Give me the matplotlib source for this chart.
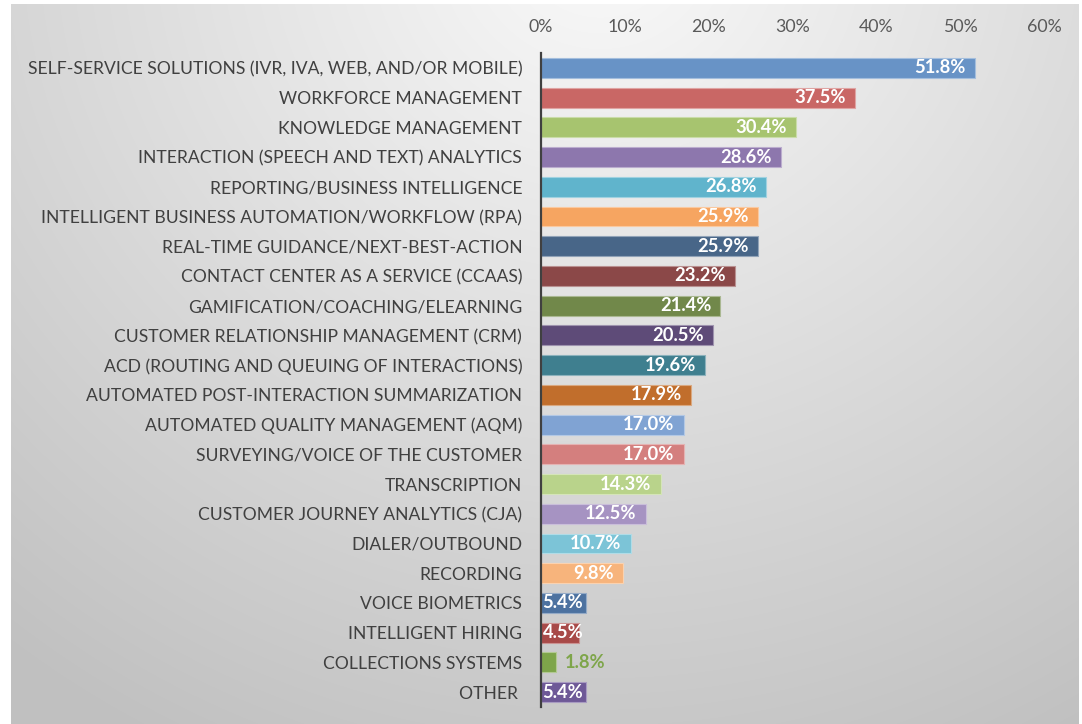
import numpy as np
import matplotlib
matplotlib.use('Agg')
import matplotlib.pyplot as plt
from matplotlib.colors import to_rgb

# 数据
categories = [
    'SELF-SERVICE SOLUTIONS (IVR, IVA, WEB, AND/OR MOBILE)',
    'WORKFORCE MANAGEMENT',
    'KNOWLEDGE MANAGEMENT',
    'INTERACTION (SPEECH AND TEXT) ANALYTICS',
    'REPORTING/BUSINESS INTELLIGENCE',
    'INTELLIGENT BUSINESS AUTOMATION/WORKFLOW (RPA)',
    'REAL-TIME GUIDANCE/NEXT-BEST-ACTION',
    'CONTACT CENTER AS A SERVICE (CCAAS)',
    'GAMIFICATION/COACHING/ELEARNING',
    'CUSTOMER RELATIONSHIP MANAGEMENT (CRM)',
    'ACD (ROUTING AND QUEUING OF INTERACTIONS)',
    'AUTOMATED POST-INTERACTION SUMMARIZATION',
    'AUTOMATED QUALITY MANAGEMENT (AQM)',
    'SURVEYING/VOICE OF THE CUSTOMER',
    'TRANSCRIPTION',
    'CUSTOMER JOURNEY ANALYTICS (CJA)',
    'DIALER/OUTBOUND',
    'RECORDING',
    'VOICE BIOMETRICS',
    'INTELLIGENT HIRING',
    'COLLECTIONS SYSTEMS',
    'OTHER ',
]
values = [51.8, 37.5, 30.4, 28.6, 26.8, 25.9, 25.9, 23.2, 21.4, 20.5, 19.6,
          17.9, 17.0, 17.0, 14.3, 12.5, 10.7, 9.8, 5.4, 4.5, 1.8, 5.4]
colors = ['#6893c6', '#c96765', '#a7c46f', '#8d77ad', '#60b4cc', '#f6a561',
          '#486688', '#8b4848', '#71884a', '#5e4b78', '#3f7f8f', '#c16e2c',
          '#80a3d3', '#d47f7e', '#b9d38b', '#a693c2', '#7cc4d7', '#f7b47c',
          '#4d72a0', '#a84a48', '#7ea54a', '#6e5997']
xticks = [0, 10, 20, 30, 40, 50, 60]

W, H = 1082, 724
fig = plt.figure(figsize=(W / 100, H / 100), dpi=100)

# 背景渐变
bg = fig.add_axes([0, 0, 1, 1], zorder=-10)
yy, xx = np.mgrid[0:H, 0:W]
d = np.sqrt(((xx - 600) / 1.0) ** 2 + ((yy + 60) / 0.95) ** 2)
t = np.clip(d / 950, 0, 1)
g = 0.98 - (0.98 - 0.755) * t
img = np.dstack([g, g, g])
img[:4, :, :] = 1.0
img[:, :11, :] = 1.0
img[:, W - 3:, :] = 1.0
bg.imshow(img, aspect='auto', interpolation='bilinear')
bg.axis('off')

ax = fig.add_axes([541 / W, 1 - 707 / H, (1044 - 541) / W, 654 / H])
ax.patch.set_alpha(0)

y = np.arange(len(categories))
edge = [tuple(0.6 * np.array(to_rgb(c)) + 0.4) for c in colors]
ax.barh(y, values, height=0.67, color=colors, edgecolor=edge, linewidth=0.8)

ax.set_xlim(0, 60)
ax.set_ylim(len(categories) - 0.5, -0.5)
ax.set_xticks(xticks)
ax.set_xticklabels([f'{v}%' for v in xticks])
ax.set_yticks(y)
ax.set_yticklabels(categories)
ax.xaxis.tick_top()
ax.tick_params(axis='x', length=0, pad=13, labelsize=12.8, labelcolor='#595959')
ax.tick_params(axis='y', length=0, pad=13.5, labelsize=12.6, labelcolor='#404040')
for lab in ax.get_xticklabels() + ax.get_yticklabels():
    lab.set_family(['Lato', 'DejaVu Sans'])

for s in ['top', 'right', 'bottom']:
    ax.spines[s].set_visible(False)
ax.spines['left'].set_color('#404040')
ax.spines['left'].set_linewidth(1.6)

# 数据标签
for yi, v, c in zip(y, values, colors):
    txt = f'{v:.1f}%'
    kw = dict(va='center', fontsize=13.2, fontweight='bold', family=['Lato', 'DejaVu Sans'])
    if v < 3:
        ax.text(v + 1.0, yi, txt, ha='left', color=c, **kw)
    elif v < 7:
        ax.text(0.2, yi, txt, ha='left', color='white', **kw)
    else:
        ax.text(v - 1.1, yi, txt, ha='right', color='white', **kw)

fig.savefig('out.png', dpi=100)
